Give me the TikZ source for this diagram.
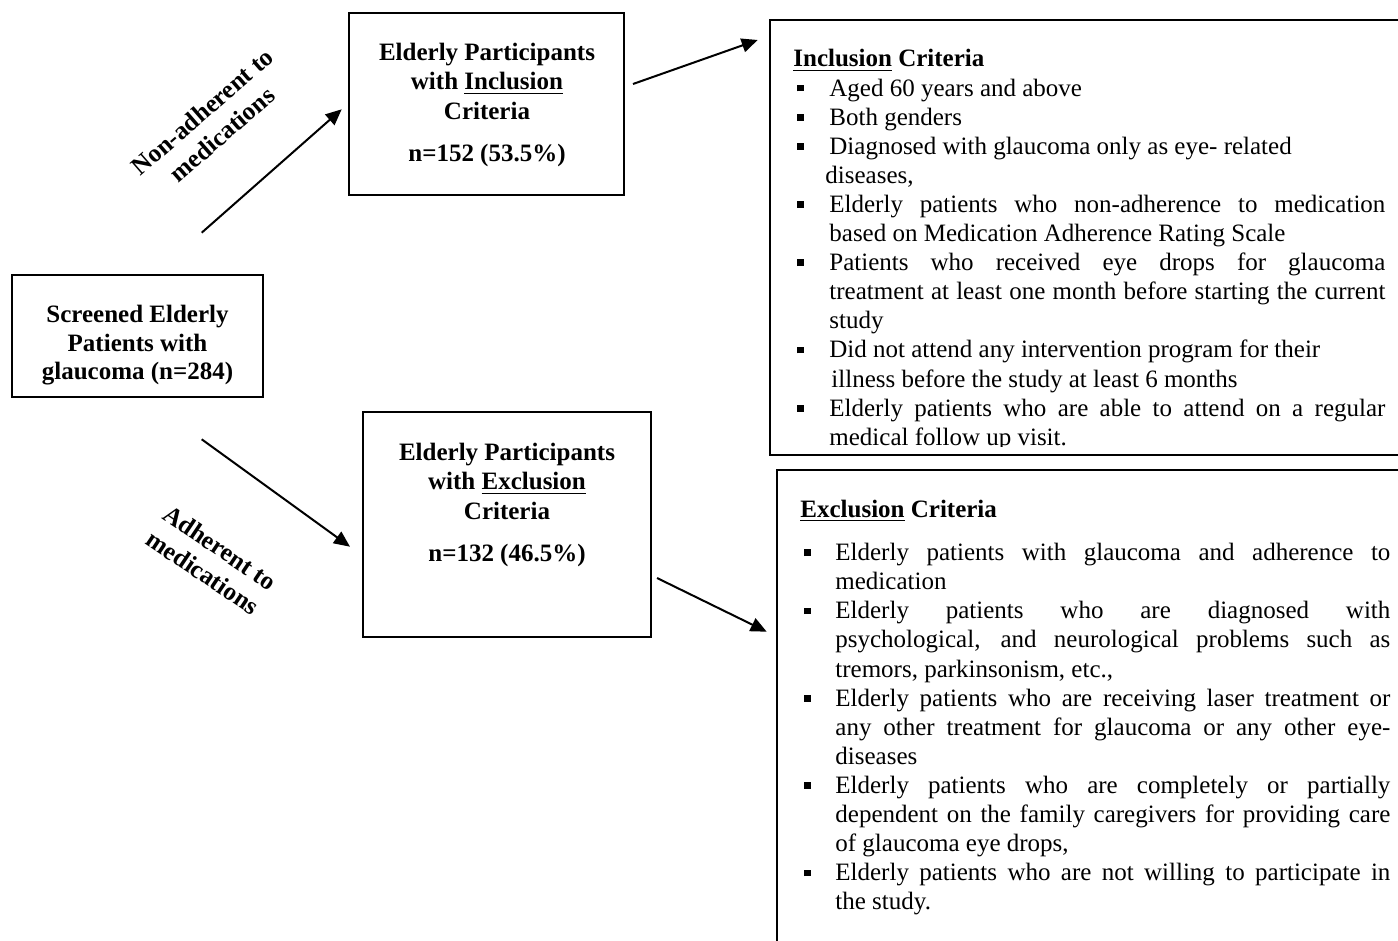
\documentclass[tikz,border=0pt]{standalone}
\usepackage{fontspec}
\setmainfont{Liberation Serif}
\usetikzlibrary{arrows.meta}
\newlength\indw
\newlength\jw
\newcommand\bul{\makebox[\indw][l]{\hspace*{2pt}\rule[2.3pt]{3.3pt}{3.3pt}}}
\newcommand\ind[1][\indw]{\hspace*{#1}}
\newcommand\js[1]{\makebox[\jw][s]{#1}}
\begin{document}
\begin{tikzpicture}[x=0.5pt,y=-0.5pt,
  box/.style={draw, line width=1.1pt, inner sep=0pt, rectangle},
  crit/.style={draw, line width=1.3pt, inner sep=0pt, rectangle},
  txt/.style={inner sep=0pt, font=\fontsize{12.5}{14.7}\selectfont\bfseries},
  lbl/.style={inner sep=0pt, font=\fontsize{12.7}{15}\selectfont\bfseries},
  listtxt/.style={inner sep=0pt, anchor=base west, font=\fontsize{12.5}{14.55}\selectfont},
  arr/.style={line width=1pt, -{Triangle[length=8pt,width=7pt]}}]
\useasboundingbox (0,0) rectangle (1398,941);

% left box
\node[box, minimum width=125.5pt, minimum height=61pt] (screen) at (137.5,336) {};
\node[txt, anchor=base, font=\fontsize{12.5}{14.3}\selectfont\bfseries] (screentxt) at (137.5,322.5)
  {\parbox[t]{124pt}{\centering Screened Elderly\\ Patients with\\ glaucoma (n=284)}};

% participants boxes
\node[box, minimum width=137.5pt, minimum height=91pt] (incl) at (486.5,104) {};
\node[txt, anchor=base] (incltxt) at (487,60.5)
  {\parbox[t]{136pt}{\centering Elderly Participants\\ with \underline{Inclusion}\\ Criteria\\[6.5pt] n=152 (53.5\%)}};

\node[box, minimum width=144pt, minimum height=112.5pt] (excl) at (507,524.5) {};
\node[txt, anchor=base] (excltxt) at (507,460.5)
  {\parbox[t]{142pt}{\centering Elderly Participants\\ with \underline{Exclusion}\\ Criteria\\[6.5pt] n=132 (46.5\%)}};

% criteria boxes
\node[crit, minimum width=317pt, minimum height=217.5pt] (inccrit) at (1087,237.5) {};
\node[crit, minimum width=313.5pt, minimum height=240pt] (exccrit) at (1090.5,710) {};

\begin{scope}
\clip (772,22) rectangle (1404,446.5);
\node[listtxt] (inclist) at (793,67)
  {\setlength\indw{18pt}\setlength\jw{278pt}\parbox[t]{300pt}{%
  \textbf{\underline{Inclusion} Criteria}\\
  \bul Aged 60 years and above\\
  \bul Both genders\\
  \bul Diagnosed with glaucoma only as eye- related\\
  \ind[16pt]diseases,\\
  \bul\js{Elderly patients who non-adherence to medication}\\
  \ind based on Medication Adherence Rating Scale\\
  \bul\js{Patients who received eye drops for glaucoma}\\
  \ind\js{treatment at least one month before starting the current}\\
  \ind study\\
  \bul Did not attend any intervention program for their\\
  \ind[19pt]illness before the study at least 6 months\\
  \bul\js{Elderly patients who are able to attend on a regular}\\
  \ind medical follow up visit.}};
\end{scope}

\node[listtxt] (exclist) at (800,517.5)
  {\setlength\indw{17.5pt}\setlength\jw{277.5pt}\parbox[t]{300pt}{%
  \textbf{\underline{Exclusion} Criteria}\\[7pt]
  \bul\js{Elderly patients with glaucoma and adherence to}\\
  \ind medication\\
  \bul\js{Elderly patients who are diagnosed with}\\
  \ind\js{psychological, and neurological problems such as}\\
  \ind tremors, parkinsonism, etc.,\\
  \bul\js{Elderly patients who are receiving laser treatment or}\\
  \ind\js{any other treatment for glaucoma or any other eye-}\\
  \ind diseases\\
  \bul\js{Elderly patients who are completely or partially}\\
  \ind\js{dependent on the family caregivers for providing care}\\
  \ind of glaucoma eye drops,\\
  \bul\js{Elderly patients who are not willing to participate in}\\
  \ind the study.}};

% rotated labels
\node[lbl, rotate=41] (nonadh) at (212,123)
  {\parbox{100pt}{\centering Non-adherent to\\ medications}};
\node[lbl, rotate=-34] (adh) at (211.5,560)
  {\parbox{100pt}{\centering Adherent to\\ medications}};

% arrows
\coordinate (a1s) at (201.7,232.7);
\coordinate (a1e) at (341.7,109.3);
\coordinate (a2s) at (633,84);
\coordinate (a2e) at (757.7,40);
\coordinate (a3s) at (201.7,439.3);
\coordinate (a3e) at (350,546.7);
\coordinate (a4s) at (657,578);
\coordinate (a4e) at (766.7,631.7);
\draw[arr] (a1s) -- (a1e);
\draw[arr] (a2s) -- (a2e);
\draw[arr] (a3s) -- (a3e);
\draw[arr] (a4s) -- (a4e);
\end{tikzpicture}
\end{document}
